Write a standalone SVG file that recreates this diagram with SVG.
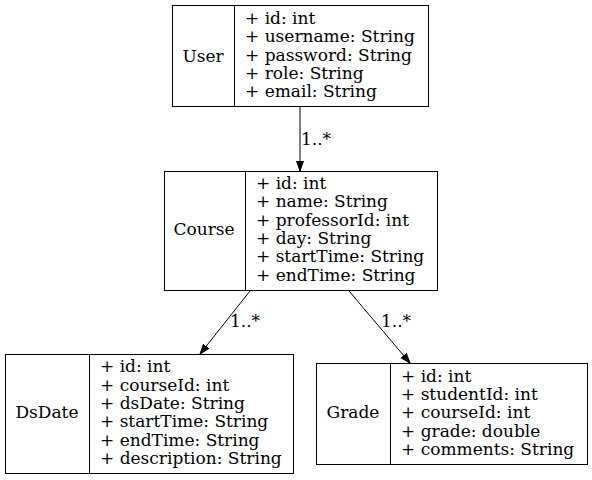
<svg xmlns="http://www.w3.org/2000/svg" width="592" height="480" viewBox="0 0 592 480">
<defs>
<style>
text{font-family:"DejaVu Serif",serif;font-size:17px;fill:#000}
.box{fill:none;stroke:#000;stroke-width:1}
.edge{fill:none;stroke:#000;stroke-width:1}
.mid{text-anchor:middle}
</style>
<marker id="arr" viewBox="0 0 10 10" refX="10" refY="5" markerWidth="10" markerHeight="10" markerUnits="userSpaceOnUse" orient="auto">
<path d="M0,1.5 L10,5 L0,8.5 Z" fill="#000" stroke="#000"/>
</marker>
</defs>
<rect width="592" height="480" fill="#fff"/>
<g id="edges">
<path class="edge" d="M300,106 L300,171" marker-end="url(#arr)"/>
<text x="301" y="145">1..*</text>
<path class="edge" d="M250,291 L200,354" marker-end="url(#arr)"/>
<text x="230" y="327">1..*</text>
<path class="edge" d="M349,291 L410,363" marker-end="url(#arr)"/>
<text x="381" y="327">1..*</text>
</g>
<g id="User">
<rect class="box" x="172.5" y="5.5" width="256" height="101"/>
<line class="box" x1="234.5" y1="5.5" x2="234.5" y2="106.5"/>
<text class="mid" x="203" y="62">User</text>
<text x="245" y="24">+ id: int</text>
<text x="245" y="42">+ username: String</text>
<text x="245" y="61">+ password: String</text>
<text x="245" y="79">+ role: String</text>
<text x="245" y="97">+ email: String</text>
</g>
<g id="Course">
<rect class="box" x="164.5" y="171.5" width="273" height="119"/>
<line class="box" x1="245.5" y1="171.5" x2="245.5" y2="290.5"/>
<text class="mid" x="204" y="235">Course</text>
<text x="256" y="189">+ id: int</text>
<text x="256" y="207">+ name: String</text>
<text x="256" y="226">+ professorId: int</text>
<text x="256" y="244">+ day: String</text>
<text x="256" y="262">+ startTime: String</text>
<text x="256" y="281">+ endTime: String</text>
</g>
<g id="DsDate">
<rect class="box" x="5.5" y="354.5" width="288" height="119"/>
<line class="box" x1="89.5" y1="354.5" x2="89.5" y2="473.5"/>
<text class="mid" x="47" y="418">DsDate</text>
<text x="100" y="372">+ id: int</text>
<text x="100" y="391">+ courseId: int</text>
<text x="100" y="409">+ dsDate: String</text>
<text x="100" y="427">+ startTime: String</text>
<text x="100" y="446">+ endTime: String</text>
<text x="100" y="464">+ description: String</text>
</g>
<g id="Grade">
<rect class="box" x="316.5" y="363.5" width="271" height="101"/>
<line class="box" x1="390.5" y1="363.5" x2="390.5" y2="464.5"/>
<text class="mid" x="353" y="418">Grade</text>
<text x="401" y="382">+ id: int</text>
<text x="401" y="400">+ studentId: int</text>
<text x="401" y="418">+ courseId: int</text>
<text x="401" y="437">+ grade: double</text>
<text x="401" y="455">+ comments: String</text>
</g>
</svg>
